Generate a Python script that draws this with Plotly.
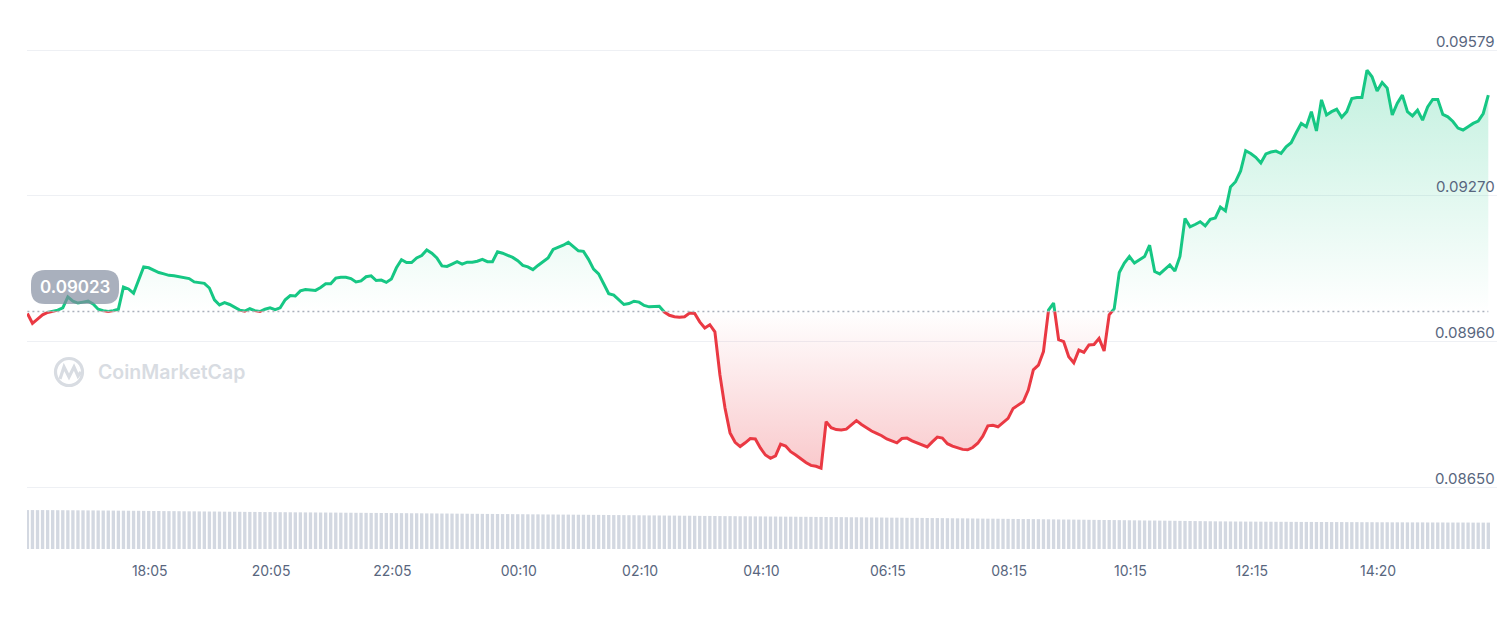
import pandas as pd
import plotly.graph_objects as go

# ---------------- data ----------------
price = [
    0.09019, 0.08998, 0.09007, 0.09016, 0.09021, 0.09024, 0.09026, 0.09031, 0.09054, 0.09045,
    0.09041, 0.09043, 0.09045, 0.09039, 0.09028, 0.09025, 0.09023, 0.09025, 0.09028, 0.09075,
    0.09071, 0.09062, 0.09090, 0.09118, 0.09116, 0.09111, 0.09106, 0.09103, 0.09100, 0.09099,
    0.09097, 0.09095, 0.09093, 0.09086, 0.09084, 0.09083, 0.09073, 0.09048, 0.09037, 0.09042,
    0.09038, 0.09032, 0.09026, 0.09024, 0.09029, 0.09025, 0.09023, 0.09028, 0.09031, 0.09027,
    0.09031, 0.09048, 0.09057, 0.09056, 0.09067, 0.09070, 0.09069, 0.09068, 0.09074, 0.09082,
    0.09082, 0.09094, 0.09096, 0.09096, 0.09093, 0.09086, 0.09088, 0.09097, 0.09099, 0.09089,
    0.09090, 0.09085, 0.09092, 0.09116, 0.09133, 0.09127, 0.09127, 0.09137, 0.09142, 0.09154,
    0.09147, 0.09137, 0.09120, 0.09119, 0.09124, 0.09129, 0.09124, 0.09128, 0.09128, 0.09130,
    0.09134, 0.09129, 0.09129, 0.09150, 0.09147, 0.09142, 0.09138, 0.09131, 0.09121, 0.09118,
    0.09112, 0.09121, 0.09129, 0.09137, 0.09155, 0.09159, 0.09164, 0.09170, 0.09160, 0.09152,
    0.09151, 0.09134, 0.09113, 0.09103, 0.09082, 0.09061, 0.09058, 0.09049, 0.09038, 0.09040,
    0.09045, 0.09043, 0.09036, 0.09033, 0.09034, 0.09034, 0.09022, 0.09015, 0.09012, 0.09011,
    0.09012, 0.09020, 0.09019, 0.09001, 0.08988, 0.08995, 0.08980, 0.08888, 0.08818, 0.08765,
    0.08745, 0.08736, 0.08744, 0.08753, 0.08752, 0.08733, 0.08718, 0.08711, 0.08716, 0.08741,
    0.08737, 0.08725, 0.08718, 0.08710, 0.08702, 0.08696, 0.08694, 0.08690, 0.08789, 0.08776,
    0.08772, 0.08771, 0.08773, 0.08782, 0.08791, 0.08783, 0.08776, 0.08769, 0.08764, 0.08759,
    0.08752, 0.08748, 0.08744, 0.08753, 0.08754, 0.08748, 0.08744, 0.08739, 0.08735, 0.08746,
    0.08756, 0.08754, 0.08742, 0.08737, 0.08734, 0.08730, 0.08729, 0.08734, 0.08743, 0.08758,
    0.08780, 0.08781, 0.08778, 0.08788, 0.08796, 0.08817, 0.08824, 0.08831, 0.08856, 0.08899,
    0.08909, 0.08938, 0.09026, 0.09041, 0.08963, 0.08959, 0.08927, 0.08914, 0.08941, 0.08936,
    0.08952, 0.08953, 0.08966, 0.08939, 0.09016, 0.09029, 0.09106, 0.09126, 0.09140, 0.09126,
    0.09133, 0.09140, 0.09164, 0.09108, 0.09103, 0.09113, 0.09122, 0.09109, 0.09140, 0.09221,
    0.09203, 0.09208, 0.09214, 0.09205, 0.09219, 0.09222, 0.09245, 0.09237, 0.09288, 0.09299,
    0.09322, 0.09365, 0.09359, 0.09351, 0.09339, 0.09358, 0.09362, 0.09364, 0.09359, 0.09373,
    0.09382, 0.09403, 0.09423, 0.09416, 0.09448, 0.09407, 0.09473, 0.09441, 0.09448, 0.09453,
    0.09436, 0.09448, 0.09476, 0.09478, 0.09478, 0.09536, 0.09522, 0.09492, 0.09510, 0.09498,
    0.09441, 0.09466, 0.09483, 0.09448, 0.09439, 0.09451, 0.09430, 0.09458, 0.09474, 0.09474,
    0.09442, 0.09437, 0.09427, 0.09413, 0.09409, 0.09416, 0.09423, 0.09428, 0.09444, 0.09483,
]

volume_m = [
    58.4, 58.4, 58.3, 58.4, 58.3, 58.3, 58.2, 58.2, 58.1, 58.1,
    58.0, 58.0, 57.9, 57.9, 57.8, 57.7, 57.7, 57.6, 57.5, 57.5,
    57.4, 57.3, 57.3, 57.2, 57.1, 57.0, 57.0, 56.9, 56.8, 56.8,
    56.7, 56.6, 56.5, 56.5, 56.4, 56.3, 56.2, 56.2, 56.1, 56.0,
    55.9, 55.9, 55.8, 55.7, 55.6, 55.6, 55.5, 55.4, 55.4, 55.3,
    55.2, 55.2, 55.1, 55.0, 55.0, 54.9, 54.9, 54.8, 54.7, 54.7,
    54.6, 54.6, 54.5, 54.4, 54.4, 54.3, 54.3, 54.2, 54.1, 54.1,
    54.0, 54.0, 53.9, 53.8, 53.8, 53.7, 53.6, 53.6, 53.5, 53.4,
    53.4, 53.3, 53.2, 53.2, 53.1, 53.0, 53.0, 52.9, 52.8, 52.8,
    52.7, 52.6, 52.6, 52.5, 52.4, 52.4, 52.3, 52.2, 52.2, 52.1,
    52.0, 52.0, 51.9, 51.8, 51.8, 51.7, 51.6, 51.6, 51.5, 51.4,
    51.4, 51.3, 51.2, 51.2, 51.1, 51.0, 50.9, 50.9, 50.8, 50.7,
    50.7, 50.6, 50.5, 50.4, 50.4, 50.3, 50.2, 50.1, 50.1, 50.0,
    49.9, 49.9, 49.8, 49.7, 49.6, 49.6, 49.5, 49.4, 49.3, 49.3,
    49.2, 49.1, 49.1, 49.0, 48.9, 48.9, 48.8, 48.7, 48.7, 48.6,
    48.5, 48.5, 48.4, 48.3, 48.3, 48.2, 48.1, 48.1, 48.0, 47.9,
    47.9, 47.8, 47.7, 47.6, 47.6, 47.5, 47.4, 47.3, 47.3, 47.2,
    47.1, 47.0, 47.0, 46.9, 46.8, 46.7, 46.7, 46.6, 46.5, 46.4,
    46.4, 46.3, 46.2, 46.1, 46.0, 46.0, 45.9, 45.8, 45.7, 45.6,
    45.5, 45.5, 45.4, 45.3, 45.2, 45.1, 45.0, 44.9, 44.9, 44.8,
    44.7, 44.6, 44.5, 44.4, 44.3, 44.2, 44.2, 44.1, 44.0, 43.9,
    43.8, 43.7, 43.6, 43.5, 43.5, 43.4, 43.3, 43.2, 43.1, 43.0,
    42.9, 42.8, 42.7, 42.7, 42.6, 42.5, 42.4, 42.3, 42.2, 42.1,
    42.0, 41.9, 41.8, 41.7, 41.6, 41.5, 41.4, 41.4, 41.3, 41.2,
    41.2, 41.1, 41.1, 41.0, 41.0, 40.9, 40.9, 40.8, 40.8, 40.8,
    40.7, 40.7, 40.6, 40.6, 40.6, 40.5, 40.5, 40.5, 40.4, 40.4,
    40.4, 40.3, 40.3, 40.3, 40.2, 40.2, 40.2, 40.1, 40.1, 40.1,
    40.0, 40.0, 40.0, 39.9, 39.9, 39.9, 39.9, 39.8, 39.8, 39.8,
    39.8, 39.7, 39.7, 39.7, 39.7, 39.7, 39.6, 39.6, 39.6, 39.6,
]

start_time = "2023-06-14 16:04"
times = pd.date_range(start_time, periods=len(price), freq="5min")

open_price = 0.09023

y_tick_vals = [0.09579, 0.09270, 0.08960, 0.08650]
y_tick_text = ["0.09579", "0.09270", "0.08960", "0.08650"]

x_tick_vals = ["2023-06-14 18:05", "2023-06-14 20:05", "2023-06-14 22:05",
               "2023-06-15 00:10", "2023-06-15 02:10", "2023-06-15 04:10",
               "2023-06-15 06:15", "2023-06-15 08:15", "2023-06-15 10:15",
               "2023-06-15 12:15", "2023-06-15 14:20"]
x_tick_text = ["18:05", "20:05", "22:05", "00:10", "02:10", "04:10",
               "06:15", "08:15", "10:15", "12:15", "14:20"]

# ---------------- geometry / style ----------------
W, H = 1511, 629
GREEN = "#16c784"
RED = "#ea3943"
LABEL = "#58667e"
FONT = "Inter"

def fx(px):
    return px / W

def fy(py):
    return 1 - py / H

# price axis pixel mapping (gridline of top tick at 50px, bottom tick at 487px)
TOP_PX, BOT_PX = 50.0, 487.0
scale = (BOT_PX - TOP_PX) / (y_tick_vals[0] - y_tick_vals[-1])

def ypix(v):
    return BOT_PX - (v - y_tick_vals[-1]) * scale

Y_LO, Y_HI = 0.0863, 0.0960
dom_full = [fy(ypix(Y_LO)), fy(ypix(Y_HI))]
dom_green = [fy(ypix(open_price)), fy(ypix(Y_HI))]
dom_red = [fy(ypix(Y_LO)), fy(ypix(open_price))]

fig = go.Figure()

# invisible trace so that the full-range grid axis renders
fig.add_trace(go.Scatter(x=times, y=price, xaxis="x", yaxis="y", mode="lines",
                         line=dict(width=0, color="rgba(0,0,0,0)"),
                         hoverinfo="skip", showlegend=False))

# volume bars
fig.add_trace(go.Bar(x=times, y=volume_m, xaxis="x", yaxis="y2",
                     marker=dict(color="#d3d8e1", line=dict(width=0)),
                     hoverinfo="skip", showlegend=False))

# green part (clipped to area above open price)
fig.add_trace(go.Scatter(
    x=times, y=price, xaxis="x", yaxis="y3", mode="lines",
    line=dict(color=GREEN, width=3),
    fill="tozeroy",
    fillgradient=dict(type="vertical",
                      colorscale=[[0, "rgba(22,199,132,0)"], [1, "rgba(22,199,132,0.26)"]],
                      start=open_price, stop=max(price)),
    hoverinfo="skip", showlegend=False))

# red part (clipped to area below open price)
fig.add_trace(go.Scatter(x=times, y=[open_price] * len(price), xaxis="x", yaxis="y4",
                         mode="lines", line=dict(width=0, color="rgba(0,0,0,0)"),
                         hoverinfo="skip", showlegend=False))
fig.add_trace(go.Scatter(
    x=times, y=price, xaxis="x", yaxis="y4", mode="lines",
    line=dict(color=RED, width=3),
    fill="tonexty",
    fillgradient=dict(type="vertical",
                      colorscale=[[0, "rgba(234,57,67,0.27)"], [1, "rgba(234,57,67,0)"]],
                      start=min(price), stop=open_price),
    hoverinfo="skip", showlegend=False))

# ---------------- shapes ----------------
shapes = []
shapes.append(dict(type="line", xref="x", yref="y", x0=times[0], x1=times[-1],
                   y0=open_price, y1=open_price, layer="above",
                   line=dict(color="#aab1bc", width=1.5, dash="2px,3px")))

def pill(x0, y0, x1, y1, r):
    pts = [
        ("M", [(x0 + r, y0)]), ("L", [(x1 - r, y0)]), ("Q", [(x1, y0), (x1, y0 + r)]),
        ("L", [(x1, y1 - r)]), ("Q", [(x1, y1), (x1 - r, y1)]),
        ("L", [(x0 + r, y1)]), ("Q", [(x0, y1), (x0, y1 - r)]),
        ("L", [(x0, y0 + r)]), ("Q", [(x0, y0), (x0 + r, y0)]),
    ]
    s = ""
    for cmd, ps in pts:
        s += cmd + " " + " ".join(f"{fx(px):.5f},{fy(py):.5f}" for px, py in ps) + " "
    return s + "Z"

shapes.append(dict(type="path", xref="paper", yref="paper", path=pill(31, 270, 119, 304, 14),
                   fillcolor="rgba(128,138,157,0.68)", line=dict(width=0), layer="above"))

# watermark logo
WM = "#d8dce2"
shapes.append(dict(type="circle", xref="paper", yref="paper",
                   x0=fx(55.5), x1=fx(82.5), y0=fy(385.5), y1=fy(358.5),
                   line=dict(color=WM, width=3.2), fillcolor="rgba(0,0,0,0)", layer="below"))
wave = [(60, 379), (64, 367), (69, 377), (74, 367), (78, 376), (81, 372)]
wave_path = "M " + " L ".join(f"{fx(a):.5f},{fy(b):.5f}" for a, b in wave)
shapes.append(dict(type="path", xref="paper", yref="paper", path=wave_path,
                   line=dict(color=WM, width=3.2), fillcolor="rgba(0,0,0,0)", layer="below"))

# ---------------- annotations ----------------
annotations = []
for v, t in zip(y_tick_vals, y_tick_text):
    annotations.append(dict(x=fx(1497), xref="paper", y=v, yref="y", text=t,
                            xanchor="right", yanchor="middle", yshift=9, showarrow=False,
                            font=dict(family=FONT, size=15, color=LABEL)))

annotations.append(dict(x=fx(75), y=fy(287), xref="paper", yref="paper",
                        text=f"{open_price:.5f}", showarrow=False,
                        xanchor="center", yanchor="middle",
                        font=dict(family=FONT, size=17, color="white", weight=600)))

annotations.append(dict(x=fx(96), y=fy(372), xref="paper", yref="paper",
                        text="CoinMarketCap", showarrow=False,
                        xanchor="left", yanchor="middle",
                        font=dict(family=FONT, size=19.5, color=WM, weight=600)))

fig.update_layout(
    width=W, height=H, autosize=False,
    margin=dict(l=0, r=0, t=0, b=0, pad=0),
    paper_bgcolor="white", plot_bgcolor="rgba(0,0,0,0)",
    showlegend=False, bargap=0.34, hovermode=False,
    xaxis=dict(type="date", domain=[fx(27), fx(1497)], anchor="y2",
               range=["2023-06-14 16:03:36", "2023-06-15 16:17:36"],
               tickvals=x_tick_vals, ticktext=x_tick_text,
               showgrid=False, zeroline=False, showline=False, ticks="",
               ticklabelstandoff=12,
               tickfont=dict(family=FONT, size=14, color=LABEL)),
    yaxis=dict(domain=dom_full, range=[Y_LO, Y_HI], anchor="x",
               tickvals=y_tick_vals, showticklabels=False, ticks="",
               showgrid=True, gridcolor="#eef0f4", gridwidth=1,
               zeroline=False, showline=False),
    yaxis2=dict(domain=[fy(549), fy(510)], range=[0, 58.5], anchor="x", visible=False),
    yaxis3=dict(domain=dom_green, range=[open_price, Y_HI], anchor="x", visible=False),
    yaxis4=dict(domain=dom_red, range=[Y_LO, open_price], anchor="x", visible=False),
    shapes=shapes, annotations=annotations,
)

fig.write_html("out.html")
